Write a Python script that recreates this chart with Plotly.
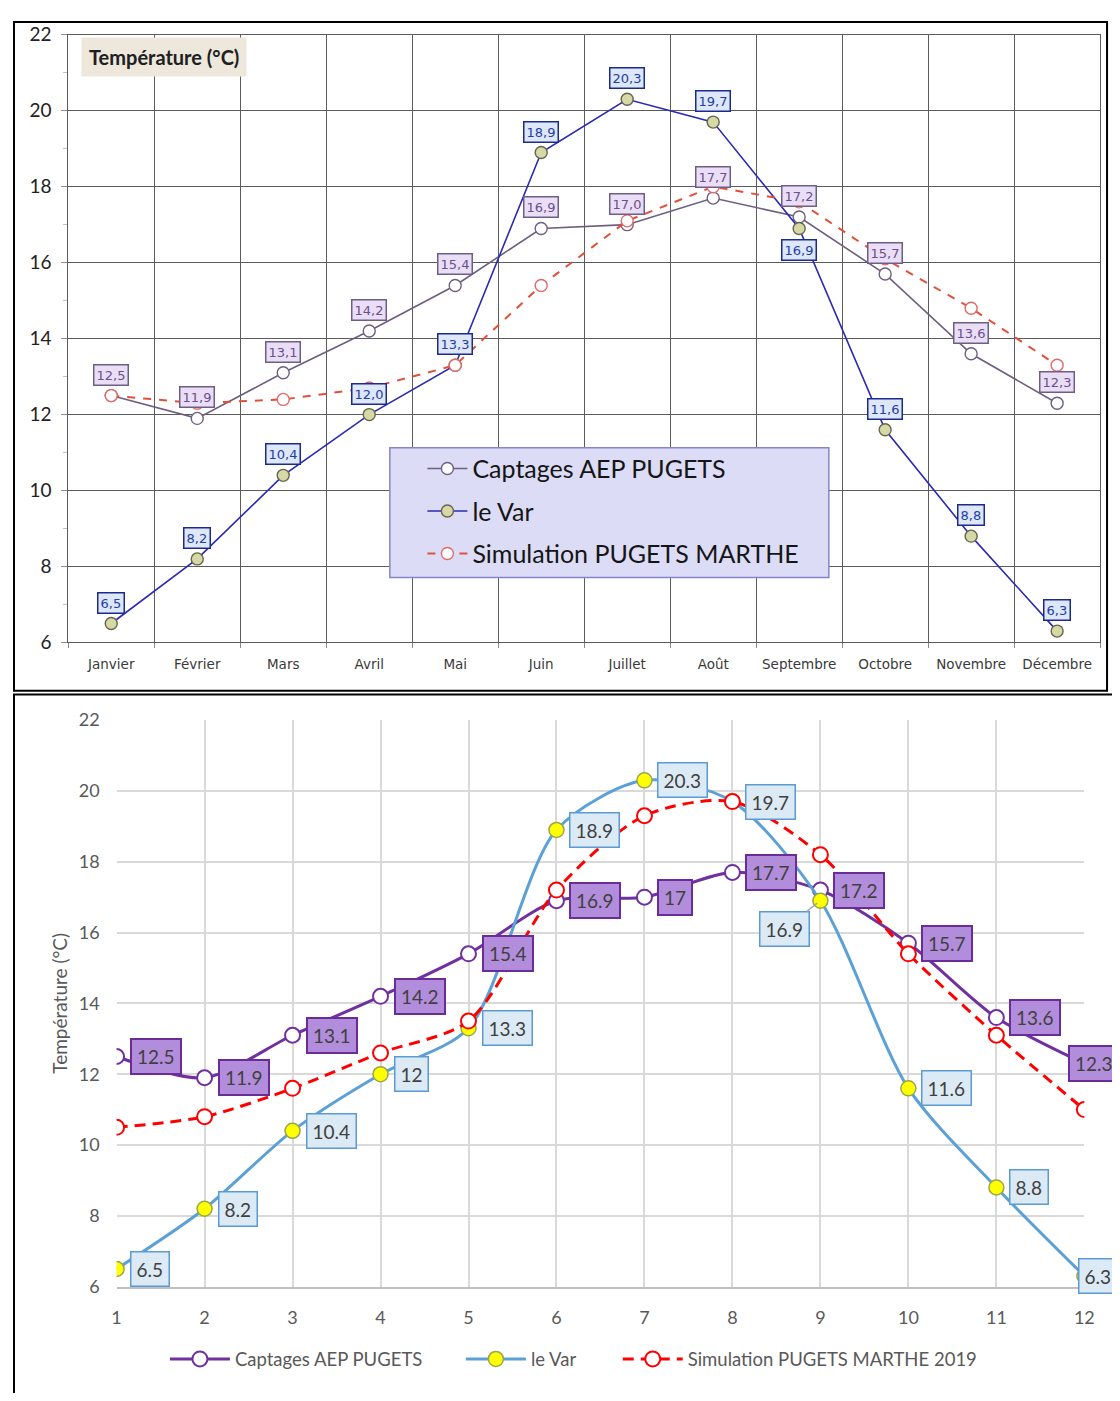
import plotly.graph_objects as go

# ---------------- data ----------------
months = ["Janvier", "Février", "Mars", "Avril", "Mai", "Juin", "Juillet",
          "Août", "Septembre", "Octobre", "Novembre", "Décembre"]
month_nums = [1, 2, 3, 4, 5, 6, 7, 8, 9, 10, 11, 12]
captages = [12.5, 11.9, 13.1, 14.2, 15.4, 16.9, 17.0, 17.7, 17.2, 15.7, 13.6, 12.3]
le_var = [6.5, 8.2, 10.4, 12.0, 13.3, 18.9, 20.3, 19.7, 16.9, 11.6, 8.8, 6.3]
sim_top = [12.5, 12.3, 12.4, 12.7, 13.3, 15.4, 17.1, 18.0, 17.6, 16.1, 14.8, 13.3]
sim_2019 = [10.5, 10.8, 11.6, 12.6, 13.5, 17.2, 19.3, 19.7, 18.2, 15.4, 13.1, 11.0]
y_range = [6, 22]

name_cap = "Captages AEP PUGETS"
name_var = "le Var"
name_sim_top = "Simulation PUGETS MARTHE"
name_sim_2019 = "Simulation PUGETS MARTHE 2019"
y_title = "Température (°C)"

# ---------------- helpers (page pixels -> paper coords) ----------------
OX, OY = 8, 8          # default body margin of the html page
W, H = 1112, 1385


def px(x):
    return (x - OX) / W


def py(y):
    return 1 - (y - OY) / H


FONT = "Lato"
fig = go.Figure()

# ---------------- top chart traces ----------------
fig.add_trace(go.Scatter(
    x=months, y=captages, name=name_cap, mode="lines+markers",
    xaxis="x", yaxis="y", legend="legend", legendgroup="a",
    line=dict(color="#6e5e80", width=1.6),
    marker=dict(symbol="circle", size=12, color="white",
                line=dict(color="#6e5e80", width=1.4))))
fig.add_trace(go.Scatter(
    x=months, y=le_var, name=name_var, mode="lines+markers",
    xaxis="x", yaxis="y", legend="legend", legendgroup="b",
    line=dict(color="#2a2ab4", width=1.6),
    marker=dict(symbol="circle", size=12, color="#d6d8a6",
                line=dict(color="#66664e", width=1.4))))
fig.add_trace(go.Scatter(
    x=months, y=sim_top, name=name_sim_top, mode="lines+markers",
    xaxis="x", yaxis="y", legend="legend", legendgroup="c",
    line=dict(color="#e0503a", width=2, dash="8px,8px"),
    marker=dict(symbol="circle", size=12, color="white",
                line=dict(color="#e06a6a", width=1.4))))

# ---------------- bottom chart traces ----------------
fig.add_trace(go.Scatter(
    x=month_nums, y=captages, name=name_cap, mode="lines+markers",
    xaxis="x2", yaxis="y2", legend="legend2",
    line=dict(color="#7030a0", width=3, shape="spline", smoothing=0.8),
    marker=dict(symbol="circle", size=15, color="white",
                line=dict(color="#7030a0", width=2))))
fig.add_trace(go.Scatter(
    x=month_nums, y=le_var, name=name_var, mode="lines+markers",
    xaxis="x2", yaxis="y2", legend="legend3",
    line=dict(color="#5ba0d6", width=3, shape="spline", smoothing=0.8),
    marker=dict(symbol="circle", size=15, color="#ffff00",
                line=dict(color="#9aa64a", width=1.5))))
fig.add_trace(go.Scatter(
    x=month_nums, y=sim_2019, name=name_sim_2019, mode="lines+markers",
    xaxis="x2", yaxis="y2", legend="legend4",
    line=dict(color="#ff0000", width=3, shape="spline", smoothing=0.8,
              dash="11px,7px"),
    marker=dict(symbol="circle", size=15, color="white",
                line=dict(color="#ff0000", width=2))))

annotations = []

# ---------------- top chart labels ----------------
def fr(v):
    return f"{v:.1f}".replace(".", ",")


top_var_below = {8}
for i, (m, v) in enumerate(zip(months, captages)):
    annotations.append(dict(
        x=m, y=v, xref="x", yref="y", text=fr(v), showarrow=False,
        yanchor="middle", yshift=21,
        font=dict(family="DejaVu Sans", size=13, color="#6c4f8c"),
        bgcolor="#e9def6", bordercolor="#6e5e86", borderwidth=1.5, borderpad=2))
for i, (m, v) in enumerate(zip(months, le_var)):
    annotations.append(dict(
        x=m, y=v, xref="x", yref="y", text=fr(v), showarrow=False,
        yanchor="middle", yshift=-22 if i in top_var_below else 21,
        font=dict(family="DejaVu Sans", size=13, color="#1f3ea8"),
        bgcolor="#dde7f8", bordercolor="#1a2a8e", borderwidth=1.5, borderpad=2))

annotations.append(dict(
    x=px(77), y=py(46), xref="paper", yref="paper", xanchor="left",
    yanchor="middle", text="<b>" + y_title + "</b>", showarrow=False,
    font=dict(family=FONT, size=20, color="#202020"),
    bgcolor="#ede7dc", borderpad=7))

# ---------------- bottom chart labels ----------------
def fmt(v):
    return f"{v:g}"


cap_shift = {11: -16}
for i, (x, v) in enumerate(zip(month_nums, captages)):
    annotations.append(dict(
        x=x, y=v, xref="x2", yref="y2", text=fmt(v), showarrow=False,
        xanchor="left", yanchor="middle", xshift=cap_shift.get(i, 13),
        font=dict(family=FONT, size=19, color="#404040"),
        bgcolor="#b28ddb", bordercolor="#6a2c98", borderwidth=2, borderpad=5))
var_shift = {11: -6}
for i, (x, v) in enumerate(zip(month_nums, le_var)):
    if i == 8:
        annotations.append(dict(
            x=x, y=v, xref="x2", yref="y2", text=fmt(v), showarrow=True,
            arrowhead=0, arrowwidth=1.5, arrowcolor="#a6a6a6", ax=-36, ay=28,
            standoff=4,
            font=dict(family=FONT, size=19, color="#404040"),
            bgcolor="#dceaf6", bordercolor="#5b9bd5", borderwidth=1.5, borderpad=5))
    else:
        annotations.append(dict(
            x=x, y=v, xref="x2", yref="y2", text=fmt(v), showarrow=False,
            xanchor="left", yanchor="middle", xshift=var_shift.get(i, 13),
            font=dict(family=FONT, size=19, color="#404040"),
            bgcolor="#dceaf6", bordercolor="#5b9bd5", borderwidth=1.5, borderpad=5))

annotations.append(dict(
    x=px(55), y=py(1008), xref="paper", yref="paper", text=y_title,
    textangle=-90, showarrow=False, xanchor="center", yanchor="middle",
    font=dict(family=FONT, size=19, color="#595959")))

# ---------------- shapes: frames + top legend box ----------------
shapes = [
    dict(type="rect", xref="paper", yref="paper", x0=px(9), x1=px(1117),
         y0=py(690), y1=py(10), line=dict(color="black", width=2),
         fillcolor="rgba(0,0,0,0)", layer="above"),
    dict(type="rect", xref="paper", yref="paper", x0=px(9), x1=px(1140),
         y0=py(1420), y1=py(694), line=dict(color="black", width=2),
         fillcolor="rgba(0,0,0,0)", layer="above"),
    dict(type="rect", xref="paper", yref="paper", x0=px(390), x1=px(835),
         y0=py(575), y1=py(443), line=dict(color="#8585cc", width=1.5),
         fillcolor="#dcdcf6", layer="above"),
]

top_grid = "#5c5c5c"
bot_grid = "#d9d9d9"

bottom_legend = dict(
    yanchor="middle", xanchor="left", y=py(1370),
    bgcolor="rgba(0,0,0,0)", borderwidth=0, orientation="h",
    font=dict(family=FONT, size=18.5, color="#595959"), itemwidth=60)

fig.update_layout(
    width=W, height=H, margin=dict(l=0, r=0, t=0, b=0),
    paper_bgcolor="white", plot_bgcolor="white",
    font=dict(family=FONT),
    xaxis=dict(
        domain=[px(64), px(1110)], anchor="y", type="category",
        categoryorder="array", categoryarray=months, range=[-0.5, 11.5],
        tickson="boundaries", showgrid=True, gridcolor=top_grid, gridwidth=1,
        ticks="outside", ticklen=5, tickcolor="#8c8c8c",
        showline=True, linecolor=top_grid, linewidth=1, mirror=True,
        tickfont=dict(family="DejaVu Sans", size=13.5, color="#3a3a3a"),
        ticklabelstandoff=9, zeroline=False),
    yaxis=dict(
        domain=[py(641), py(23)], anchor="x", range=y_range,
        tick0=6, dtick=2, showgrid=True, gridcolor=top_grid, gridwidth=1,
        ticks="outside", ticklen=6, tickcolor="#8c8c8c",
        minor=dict(ticks="outside", ticklen=4, tickcolor="#c0c0c0",
                   tick0=6, dtick=1, showgrid=False),
        showline=True, linecolor=top_grid, linewidth=1, mirror=True,
        tickfont=dict(family=FONT, size=19, color="#222222"),
        ticklabelstandoff=6, zeroline=False),
    xaxis2=dict(
        domain=[px(113), px(1094)], anchor="y2", range=[1, 12],
        tick0=1, dtick=1, showgrid=True, gridcolor=bot_grid, gridwidth=1.5,
        ticks="", showline=True, linecolor="#bfbfbf", linewidth=1.5,
        tickfont=dict(family=FONT, size=18, color="#595959"),
        ticklabelstandoff=14, zeroline=False),
    yaxis2=dict(
        domain=[py(1296), py(720)], anchor="x2", range=y_range,
        tick0=6, dtick=2, showgrid=True, gridcolor=bot_grid, gridwidth=1.5,
        ticks="", showline=False,
        tickfont=dict(family=FONT, size=18, color="#595959"),
        ticklabelstandoff=16, zeroline=False),
    legend=dict(
        x=px(423), y=py(441), xanchor="left", yanchor="top",
        bgcolor="rgba(0,0,0,0)", borderwidth=0, orientation="v",
        font=dict(family=FONT, size=25, color="#151515"),
        itemwidth=40, tracegroupgap=7, traceorder="grouped"),
    legend2=dict(bottom_legend, x=px(162)),
    legend3=dict(bottom_legend, x=px(462)),
    legend4=dict(bottom_legend, x=px(621)),
    annotations=annotations,
    shapes=shapes,
)

fig.write_html("out.html")
